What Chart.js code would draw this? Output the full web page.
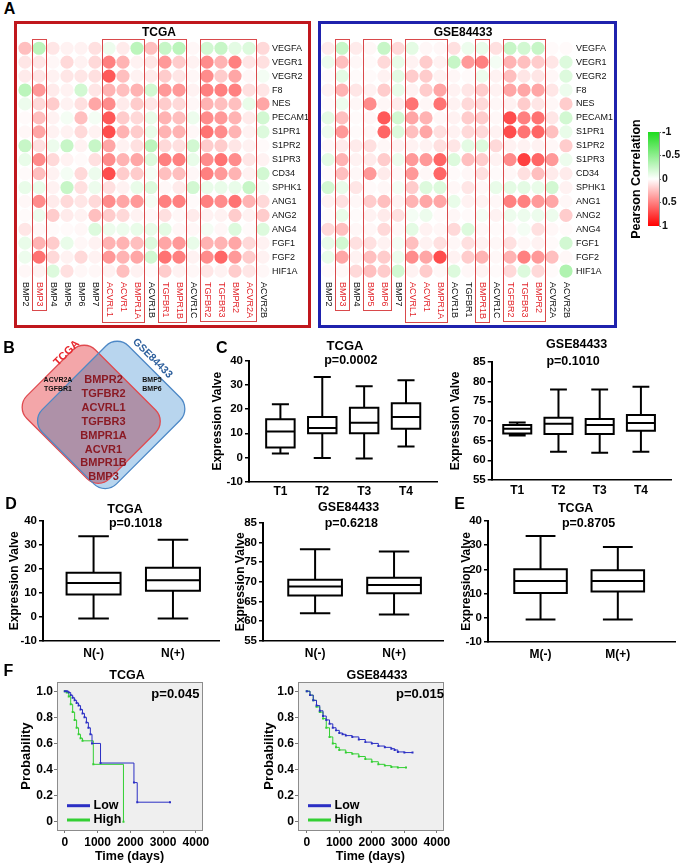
<!DOCTYPE html>
<html lang="en">
<head>
<meta charset="UTF-8">
<title>BMP receptors, angiogenesis genes and survival</title>
<script src="https://cdn.jsdelivr.net/npm/chart.js"></script>
<style>
  html, body { margin: 0; padding: 0; background: #fff; }
  #fig { position: relative; width: 685px; height: 868px; overflow: hidden;
         font-family: Arial, "Liberation Sans", Helvetica, sans-serif; }
  #fig canvas { position: absolute; }
  .t { position: absolute; line-height: 1; white-space: nowrap; font-weight: bold; color: #000;
       transform: translate(-50%, -50%); z-index: 3; }
  .frame { position: absolute; box-sizing: border-box; pointer-events: none; z-index: 2; }
</style>
</head>
<body>
<div id="fig">
  <div class="frame" style="left:14px;top:21px;width:297px;height:307px;border:3px solid #c0171d"></div>
  <div class="frame" style="left:318px;top:21px;width:299px;height:307px;border:3px solid #1f22ad"></div>
</div>
<script>
// ---------- data ----------
const receptors = ['BMP2','BMP3','BMP4','BMP5','BMP6','BMP7','ACVRL1','ACVR1','BMPR1A','ACVR1B',
                   'TGFBR1','BMPR1B','ACVR1C','TGFBR2','TGFBR3','BMPR2','ACVR2A','ACVR2B'];
const angioGenes = ['VEGFA','VEGR1','VEGR2','F8','NES','PECAM1','S1PR1','S1PR2','S1PR3','CD34',
                    'SPHK1','ANG1','ANG2','ANG4','FGF1','FGF2','HIF1A'];

// Pearson r, one row per angiogenesis gene, one column per receptor
const tcgaCorr = [
  [0.25,-0.3,0.1,0.05,0.05,0.12,-0.08,0.08,-0.3,0.25,-0.25,-0.3,0.03,-0.2,-0.25,-0.12,-0.15,0.15],
  [0.1,0.1,0.03,0.15,0.05,0.15,0.5,0.3,0.05,0.1,0.4,0.2,0.05,0.45,0.3,0.5,0.1,0.12],
  [0.08,0.1,0.05,0.1,0.1,0.12,0.65,0.25,0.05,0.08,0.2,0.1,0.03,0.45,0.2,0.35,0.03,-0.05],
  [-0.3,0.4,0.08,0.05,-0.2,0.1,0.3,0.25,0.3,-0.2,0.4,0.4,0.05,0.5,0.5,0.5,0.12,0.1],
  [-0.08,0.15,0.2,0.05,0.12,0.35,0.45,0.08,0.2,0.1,0.2,0.15,0.03,0.3,0.25,0.25,-0.1,0.35],
  [0.02,0.25,0.05,-0.05,0.25,-0.05,0.65,0.2,0.15,-0.1,0.3,0.25,-0.08,0.45,0.4,0.3,0.08,-0.2],
  [0.03,0.35,0.05,0.05,0.15,0.05,0.7,0.3,0.2,-0.1,0.3,0.3,0.03,0.55,0.45,0.3,0.05,-0.15],
  [-0.25,0.12,-0.08,-0.25,0.05,-0.25,0.35,0.05,0.12,-0.3,0.15,0.12,-0.2,0.2,0.2,0.1,0.05,0.02],
  [-0.1,0.45,0.15,0.05,0.02,0.12,0.45,0.3,0.35,-0.15,0.5,0.5,-0.1,0.45,0.55,0.45,0.1,0.05],
  [0.02,0.25,0.05,-0.05,0.15,-0.08,0.7,0.2,0.2,-0.05,0.25,0.25,0.03,0.5,0.4,0.3,0.05,-0.2],
  [-0.1,-0.1,0.05,-0.25,0.12,-0.08,0.12,0.05,-0.1,-0.15,0.03,0.08,-0.2,-0.1,-0.1,-0.1,-0.25,-0.05],
  [0.03,0.45,0.08,0.15,0.1,0.15,0.45,0.35,0.4,-0.05,0.5,0.5,0.02,0.5,0.45,0.55,0.3,0.15],
  [0.02,-0.08,0.2,0.08,0.05,0.25,0.2,0.15,0.05,0.03,0.12,0.03,0.08,0.05,0.05,0.2,0.05,0.2],
  [0.1,0.03,0.02,0.02,0.03,-0.15,-0.08,-0.08,-0.1,-0.1,-0.12,0.03,0.03,-0.05,0.03,-0.15,0.02,-0.15],
  [-0.1,0.3,0.2,-0.1,0.03,0.05,0.3,0.3,0.25,-0.15,0.35,0.4,-0.1,0.3,0.3,0.35,0.15,0.05],
  [-0.08,0.55,0.15,0.05,0.15,0.05,0.4,0.3,0.35,-0.2,0.55,0.5,0.05,0.45,0.6,0.4,0.2,0.05],
  [0.03,0.05,-0.15,0.12,0.03,0.03,0.05,0.25,0.05,0.02,0.2,0.05,0.03,0.1,0.05,0.2,0.1,0.03]
];
const gseCorr = [
  [0.08,-0.25,0.08,0.03,-0.25,0.15,-0.12,0.03,0.03,0.12,-0.08,-0.1,0.12,-0.25,-0.2,-0.25,0.02,0.02],
  [-0.08,0.25,0.03,0.02,0.15,-0.1,0.05,0.2,0.05,-0.25,0.4,0.5,-0.05,0.3,0.25,0.2,0.1,-0.15],
  [0.02,-0.12,0.02,0.02,0.05,-0.12,0.2,0.2,0.05,0.03,0.02,-0.08,0.05,0.25,0.1,0.1,0.03,-0.15],
  [0.05,0.3,0.1,0.05,0.2,-0.1,0.05,0.2,0.35,0.05,0.1,0.2,0.05,0.35,0.35,0.35,0.1,-0.08],
  [0.02,-0.08,0.03,0.45,0.03,0.08,0.55,0.03,0.55,0.05,0.15,0.15,0.03,0.05,0.2,0.1,0.03,0.2],
  [-0.12,0.25,0.02,0.03,0.65,-0.2,0.35,0.3,0.03,0.05,0.2,0.2,0.03,0.7,0.5,0.55,0.1,-0.2],
  [-0.08,0.4,0.02,0.03,0.6,-0.15,0.25,0.35,0.12,0.05,0.15,0.15,0.05,0.7,0.55,0.6,0.25,-0.1],
  [0.03,0.08,0.08,0.12,0.03,0.05,0.05,0.05,0.12,0.1,-0.12,-0.15,0.15,0.05,0.05,0.05,0.03,0.2],
  [-0.12,0.3,0.05,0.08,0.2,-0.08,0.4,0.4,0.6,-0.15,0.25,0.2,0.05,0.45,0.75,0.6,0.4,-0.08],
  [0.02,0.25,0.03,0.4,0.08,0.03,0.4,0.03,0.6,0.02,0.03,0.12,0.02,0.03,0.12,0.25,0.08,0.08],
  [-0.2,-0.1,0.1,0.02,0.03,-0.05,0.2,-0.15,-0.15,0.03,0.1,0.03,-0.1,-0.12,-0.12,-0.1,-0.2,0.05],
  [0.05,0.12,0.03,0.2,0.25,0.05,0.3,0.35,0.35,-0.1,0.05,0.05,0.03,0.5,0.5,0.4,0.35,0.03],
  [0.02,-0.1,0.02,0.05,0.08,0.12,-0.05,-0.08,0.02,0.03,0.02,-0.05,0.05,-0.08,-0.08,-0.08,-0.08,0.2],
  [0.15,0.25,0.03,0.03,0.15,0.03,-0.12,0.05,0.03,0.15,-0.15,0.03,0.02,0.03,-0.05,0.12,0.03,0.02],
  [-0.1,-0.2,0.12,0.12,0.05,-0.05,0.25,0.05,0.12,0.03,0.12,0.05,0.03,0.12,0.03,0.05,0.02,-0.2],
  [-0.1,0.35,0.05,0.25,0.2,-0.08,0.45,0.35,0.7,0.05,0.2,0.3,0.03,0.3,0.5,0.4,0.25,0.03],
  [0.02,0.03,0.15,0.25,0.2,-0.2,0.05,0.2,0.03,-0.15,0.03,0.05,0.02,0.15,-0.15,0.15,0.02,-0.35]
];
// receptor columns boxed (and written in red) in each heatmap
const tcgaGroups = [[1,1],[6,8],[10,11],[13,16]];
const gseGroups = [[1,1],[3,4],[6,8],[11,11],[13,15]];
const corrTicks = [-1, -0.5, 0, 0.5, 1];

const vennTcgaOnly = ['ACVR2A','TGFBR1'];
const vennGseOnly = ['BMP5','BMP6'];
const vennShared = ['BMPR2','TGFBR2','ACVRL1','TGFBR3','BMPR1A','ACVR1','BMPR1B','BMP3'];

// box plots: [min, q1, median, q3, max]
const stageLabels = ['T1','T2','T3','T4'];
const stageTcga = [[1.6,4.1,10.7,15.8,22],[-0.3,10,12.2,16.7,33.3],[-0.5,10,14.4,20.6,29.5],[4.5,11.9,16.7,22.4,32]];
const stageGse = [[66.3,66.8,68,69,69.6],[62.2,66.7,69.3,70.8,78],[61.9,66.7,69,70.5,78],[62.2,67.5,69.5,71.5,78.7]];
const nodeLabels = ['N(-)','N(+)'];
const nodeTcga = [[-0.7,9.3,14.1,18.4,33.6],[-0.7,10.8,15.2,20.4,32.1]];
const nodeGse = [[62,66.5,68.8,70.5,78.3],[61.7,67.1,69.2,71,77.7]];
const metLabels = ['M(-)','M(+)'];
const metTcga = [[-0.7,10.2,15.2,20,33.8],[-0.7,10.9,15.2,19.6,29.2]];

// Kaplan-Meier steps
const kmTicksX = [0, 1000, 2000, 3000, 4000];
const kmTicksY = [0, 0.2, 0.4, 0.6, 0.8, 1.0];
const tcgaLowT  = [0,60,120,180,240,300,360,420,480,540,600,660,720,780,830,1090,2110,2210,3210];
const tcgaLowS  = [1,1,0.99,0.97,0.95,0.93,0.91,0.89,0.86,0.83,0.8,0.76,0.72,0.67,0.6,0.45,0.3,0.15,0.15];
const tcgaHighT = [0,60,120,180,240,300,360,420,480,540,870,1790];
const tcgaHighS = [1,0.99,0.96,0.9,0.84,0.78,0.72,0.67,0.64,0.62,0.44,0];
const gseLowT  = [0,100,200,300,400,500,600,700,800,900,1000,1100,1200,1400,1600,1800,2000,2200,2400,2600,2700,2800,3000,3250];
const gseLowS  = [1,0.97,0.93,0.89,0.85,0.81,0.78,0.75,0.72,0.7,0.68,0.67,0.66,0.65,0.63,0.61,0.6,0.58,0.57,0.56,0.55,0.535,0.53,0.53];
const gseHighT = [0,100,200,300,400,500,600,700,800,900,1000,1200,1400,1600,1800,2000,2200,2400,2600,2800,3050];
const gseHighS = [1,0.97,0.93,0.88,0.84,0.79,0.72,0.65,0.6,0.57,0.55,0.53,0.52,0.5,0.48,0.46,0.44,0.43,0.42,0.415,0.415];

// ---------- helpers ----------
const FONT = 'Arial, "Liberation Sans", Helvetica, sans-serif';
const fig = document.getElementById('fig');
Chart.defaults.font.family = FONT;
Chart.defaults.color = '#000';
Chart.defaults.animation = false;
Chart.defaults.events = [];
Chart.defaults.responsive = false;
Chart.defaults.plugins.legend.display = false;
Chart.defaults.plugins.tooltip.enabled = false;

function makeCanvas(left, top, w, h) {
  const c = document.createElement('canvas');
  c.width = w; c.height = h;
  c.style.left = left + 'px'; c.style.top = top + 'px';
  c.style.width = w + 'px'; c.style.height = h + 'px';
  fig.appendChild(c);
  return c;
}

function label(text, x, y, size, color, rotate) {
  const d = document.createElement('div');
  d.className = 't';
  d.textContent = text;
  d.style.left = x + 'px'; d.style.top = y + 'px'; d.style.fontSize = size + 'px';
  if (color) d.style.color = color;
  if (rotate) d.style.transform = 'translate(-50%,-50%) rotate(' + rotate + 'deg)';
  fig.appendChild(d);
}

function corrColor(r) {
  const a = Math.min(1, Math.abs(r));
  if (r >= 0) {
    const g = Math.round(255 * (1 - a));
    return 'rgb(255,' + g + ',' + g + ')';
  }
  const rb = Math.round(255 - 225 * a);
  return 'rgb(' + rb + ',' + Math.round(255 - 35 * a) + ',' + rb + ')';
}

// ---------- A: correlation heatmaps ----------
function heatLabels(cols, groups) {
  const red = new Set();
  groups.forEach(([a, b]) => { for (let i = a; i <= b; i++) red.add(i); });
  return {
    id: 'heatLabels',
    afterDraw(chart) {
      const {ctx, chartArea} = chart;
      const x = chart.scales.x;
      const y0 = chartArea.bottom + 4;
      ctx.save();
      ctx.font = '9px ' + FONT;
      ctx.textAlign = 'left';
      ctx.textBaseline = 'middle';
      cols.forEach((name, i) => {
        ctx.save();
        ctx.translate(x.getPixelForValue(i), y0);
        ctx.rotate(Math.PI / 2);
        ctx.fillStyle = red.has(i) ? '#e3262c' : '#111';
        ctx.fillText(name, 0, 0);
        ctx.restore();
      });
      ctx.strokeStyle = '#d9494b';
      ctx.lineWidth = 1;
      groups.forEach(([a, b]) => {
        const x1 = Math.round(x.getPixelForValue(a - 0.5)) + 0.5;
        const x2 = Math.round(x.getPixelForValue(b + 0.5)) + 0.5;
        let len = 0;
        for (let i = a; i <= b; i++) len = Math.max(len, ctx.measureText(cols[i]).width);
        const yT = Math.round(chartArea.top - 2.5) + 0.5;
        const yB = Math.round(y0 + len + 3) + 0.5;
        ctx.strokeRect(x1, yT, x2 - x1, yB - yT);
      });
      ctx.restore();
    }
  };
}

function heatmap(left, w, corr, groups, plotLeft, plotRight, labelPad) {
  const top = 21, h = 307;
  const pts = [];
  corr.forEach((row, r) => row.forEach((v, c) => pts.push({x: c, y: r, v: v})));
  new Chart(makeCanvas(left, top, w, h), {
    type: 'scatter',
    data: {datasets: [{
      data: pts, pointRadius: 6.6, pointHoverRadius: 6.6, pointBorderWidth: 0,
      pointBackgroundColor: ctx => corrColor(ctx.raw ? ctx.raw.v : 0)
    }]},
    options: {
      layout: {padding: {left: plotLeft - left, top: 20.3, right: 0, bottom: 0}, autoPadding: false},
      scales: {
        x: {type: 'linear', min: -0.5, max: receptors.length - 0.5,
            ticks: {display: false}, grid: {display: false, drawTicks: false}, border: {display: false},
            afterFit: s => { s.height = 50; }},
        y: {type: 'linear', position: 'right', reverse: true, min: -0.5, max: angioGenes.length - 0.5,
            afterBuildTicks: s => { s.ticks = angioGenes.map((_, i) => ({value: i})); },
            ticks: {callback: v => angioGenes[v], autoSkip: false, font: {size: 9}, color: '#111', padding: labelPad},
            grid: {display: false, drawTicks: false}, border: {display: false},
            afterFit: s => { s.width = left + w - plotRight; }}
      }
    },
    plugins: [heatLabels(receptors, groups)]
  });
}

heatmap(14, 297, tcgaCorr, tcgaGroups, 18, 270, 2);
heatmap(318, 299, gseCorr, gseGroups, 321, 573, 3);
label('TCGA', 159, 32, 12);
label('GSE84433', 463, 32, 12);

// colour bar
new Chart(makeCanvas(640, 122, 45, 112), {
  type: 'bar',
  data: {labels: [''], datasets: [{
    data: [[-1, 1]], borderWidth: 0, barPercentage: 1, categoryPercentage: 1,
    backgroundColor: ctx => {
      const area = ctx.chart.chartArea;
      if (!area) return '#fff';
      const g = ctx.chart.ctx.createLinearGradient(0, area.top, 0, area.bottom);
      corrTicks.forEach((v, i) => g.addColorStop(i / (corrTicks.length - 1), corrColor(v)));
      return g;
    }
  }]},
  options: {
    layout: {padding: {left: 8, top: 10, right: 0, bottom: 8}, autoPadding: false},
    scales: {
      x: {display: false},
      y: {position: 'right', min: -1, max: 1, reverse: true,
          afterBuildTicks: s => { s.ticks = corrTicks.map(v => ({value: v})); },
          ticks: {callback: v => String(v), font: {size: 10.5, weight: 'bold'}, color: '#111', padding: 1},
          grid: {display: true, drawOnChartArea: false, drawTicks: true, tickLength: 2, color: '#666'},
          border: {display: true, color: '#999'},
          afterFit: s => { s.width = 26; }}
    }
  }
});
label('Pearson Correlation', 636, 179, 12.5, null, -90);

// ---------- B: Venn ----------
const vennOrigin = {x: 0, y: 330};
const vennPlugin = {
  id: 'venn',
  afterDraw(chart) {
    const ctx = chart.ctx;
    const ox = vennOrigin.x, oy = vennOrigin.y;
    const shape = (cx, cy, ws, wt, r) => {
      ctx.save();
      ctx.translate(cx - ox, cy - oy);
      ctx.rotate(Math.PI / 4);
      const x0 = -ws / 2, y0 = -wt / 2;
      ctx.beginPath();
      ctx.moveTo(x0 + r, y0);
      ctx.arcTo(x0 + ws, y0, x0 + ws, y0 + wt, r);
      ctx.arcTo(x0 + ws, y0 + wt, x0, y0 + wt, r);
      ctx.arcTo(x0, y0 + wt, x0, y0, r);
      ctx.arcTo(x0, y0, x0 + ws, y0, r);
      ctx.closePath();
      ctx.restore();
    };
    const red = () => shape(91.2, 414.3, 117, 97, 16);
    const blue = () => shape(111.2, 414.9, 105, 122, 16);
    ctx.save();
    blue(); ctx.fillStyle = '#b8d5ee'; ctx.fill();
    red(); ctx.fillStyle = '#f3a6a9'; ctx.fill();
    ctx.save(); red(); ctx.clip(); blue(); ctx.fillStyle = '#ae91a8'; ctx.fill(); ctx.restore();
    ctx.lineWidth = 1.3;
    red(); ctx.strokeStyle = '#e04a4f'; ctx.stroke();
    blue(); ctx.strokeStyle = '#4d88c6'; ctx.stroke();

    ctx.textAlign = 'center';
    ctx.textBaseline = 'middle';
    const rotText = (s, x, y, ang, font, color) => {
      ctx.save();
      ctx.translate(x - ox, y - oy);
      ctx.rotate(ang);
      ctx.font = font; ctx.fillStyle = color;
      ctx.fillText(s, 0, 0);
      ctx.restore();
    };
    rotText('TCGA', 66.7, 353, -Math.PI / 4, 'bold 11px ' + FONT, '#e8282e');
    rotText('GSE84433', 152.5, 358.3, Math.PI / 4, 'bold 10.5px ' + FONT, '#2d5f9c');
    ctx.font = 'bold 7px ' + FONT;
    ctx.fillStyle = '#111';
    vennTcgaOnly.forEach((s, i) => ctx.fillText(s, 58 - ox, 380 + i * 9.3 - oy));
    vennGseOnly.forEach((s, i) => ctx.fillText(s, 152 - ox, 380 + i * 9.3 - oy));
    ctx.font = 'bold 11px ' + FONT;
    ctx.fillStyle = '#8b1a24';
    vennShared.forEach((s, i) => ctx.fillText(s, 103.5 - ox, 380 + i * 13.9 - oy));
    ctx.restore();
  }
};
new Chart(makeCanvas(vennOrigin.x, vennOrigin.y, 200, 170), {
  type: 'scatter',
  data: {datasets: []},
  options: {scales: {x: {display: false}, y: {display: false}}},
  plugins: [vennPlugin]
});

// ---------- C, D, E: box plots ----------
function boxSegments(stats, hw, cw) {
  const pts = [];
  const brk = () => pts.push({x: null, y: null});
  stats.forEach(([lo, q1, med, q3, hi], i) => {
    const x = i + 1;
    pts.push({x: x - hw, y: q1}, {x: x + hw, y: q1}, {x: x + hw, y: q3}, {x: x - hw, y: q3}, {x: x - hw, y: q1}); brk();
    pts.push({x: x - hw, y: med}, {x: x + hw, y: med}); brk();
    pts.push({x: x, y: q3}, {x: x, y: hi}); brk();
    pts.push({x: x - cw, y: hi}, {x: x + cw, y: hi}); brk();
    pts.push({x: x, y: q1}, {x: x, y: lo}); brk();
    pts.push({x: x - cw, y: lo}, {x: x + cw, y: lo}); brk();
  });
  return pts;
}

function boxChart(o) {
  const tfs = 12;
  const left = Math.round(o.titleX - (1 + 0.6 * tfs));
  const top = Math.round(o.top - 8);
  const xH = 24;
  const w = Math.ceil(o.right + 6 - left);
  const h = Math.ceil(o.bottom + xH - top);
  new Chart(makeCanvas(left, top, w, h), {
    type: 'scatter',
    data: {datasets: [{
      data: boxSegments(o.stats, 0.34, 0.18), showLine: true, borderColor: '#000', borderWidth: 2,
      pointRadius: 0, borderJoinStyle: 'miter', borderCapStyle: 'square'
    }]},
    options: {
      layout: {padding: {left: 0, top: o.top - top, right: left + w - o.right, bottom: top + h - o.bottom - xH}, autoPadding: false},
      scales: {
        x: {type: 'linear', min: o.xMin, max: o.xMax,
            afterBuildTicks: s => { s.ticks = o.labels.map((_, i) => ({value: i + 1})); },
            ticks: {callback: v => o.labels[v - 1], font: {size: 12, weight: 'bold'}, color: '#000',
                    padding: o.labelPad, autoSkip: false, maxRotation: 0},
            grid: {display: false, drawTicks: false},
            border: {display: true, color: '#000', width: 1.5},
            afterFit: s => { s.height = xH; }},
        y: {type: 'linear', min: o.yMin, max: o.yMax,
            ticks: {stepSize: o.yStep, font: {size: 11.5, weight: 'bold'}, color: '#000', padding: 2},
            grid: {display: true, drawOnChartArea: false, drawTicks: true, tickLength: 4, color: '#000', lineWidth: 1.5},
            border: {display: true, color: '#000', width: 2},
            title: {display: true, text: 'Expression Valve', font: {size: tfs, weight: 'bold'}, color: '#000',
                    padding: {top: 1, bottom: 0}},
            afterFit: s => { s.width = o.left - left; }}
      }
    }
  });
}

boxChart({stats: stageTcga, labels: stageLabels, left: 249, right: 437, top: 360, bottom: 481.5, titleX: 217.5,
          xMin: 0.25, xMax: 4.74, yMin: -10, yMax: 40, yStep: 10, labelPad: 3.3});
boxChart({stats: stageGse, labels: stageLabels, left: 491.7, right: 671, top: 361, bottom: 480, titleX: 455,
          xMin: 0.38, xMax: 4.73, yMin: 55, yMax: 85, yStep: 5, labelPad: 3.3});
boxChart({stats: nodeTcga, labels: nodeLabels, left: 43, right: 219, top: 520, bottom: 640.7, titleX: 13.8,
          xMin: 0.363, xMax: 2.58, yMin: -10, yMax: 40, yStep: 10, labelPad: 5.4});
boxChart({stats: nodeGse, labels: nodeLabels, left: 263, right: 443, top: 521.7, bottom: 640.7, titleX: 239.7,
          xMin: 0.34, xMax: 2.62, yMin: 55, yMax: 85, yStep: 5, labelPad: 5.4});
boxChart({stats: metTcga, labels: metLabels, left: 488, right: 675, top: 520, bottom: 642, titleX: 466,
          xMin: 0.32, xMax: 2.74, yMin: -10, yMax: 40, yStep: 10, labelPad: 5.4});

label('TCGA', 345, 345.3, 13);
label('p=0.0002', 350.8, 360, 12.5);
label('GSE84433', 576.7, 344, 12.5);
label('p=0.1010', 573, 361, 12.5);
label('TCGA', 125, 509.3, 12.5);
label('p=0.1018', 135.5, 522.8, 12.5);
label('GSE84433', 348.7, 506.8, 12.5);
label('p=0.6218', 351.3, 523, 12.5);
label('TCGA', 575.7, 508.3, 12.5);
label('p=0.8705', 588.5, 522.7, 12.5);

// ---------- F: survival ----------
const kmFrame = {
  id: 'kmFrame',
  beforeDraw(chart) {
    const {ctx, chartArea: a} = chart;
    ctx.save();
    ctx.fillStyle = '#efefef';
    ctx.fillRect(a.left, a.top, a.width, a.height);
    ctx.restore();
  },
  afterDraw(chart) {
    const {ctx, chartArea: a} = chart;
    ctx.save();
    ctx.strokeStyle = '#8c8c8c';
    ctx.lineWidth = 1;
    ctx.strokeRect(Math.round(a.left) + 0.5, Math.round(a.top) + 0.5, Math.round(a.width), Math.round(a.height));
    ctx.font = 'bold 12.5px ' + FONT;
    ctx.textBaseline = 'middle';
    chart.data.datasets.forEach((d, i) => {
      const y = a.bottom - 24.3 + i * 14.3;
      ctx.strokeStyle = d.borderColor;
      ctx.lineWidth = 3;
      ctx.beginPath();
      ctx.moveTo(a.left + 10, y);
      ctx.lineTo(a.left + 33, y);
      ctx.stroke();
      ctx.fillStyle = '#000';
      ctx.fillText(d.label, a.left + 36.5, y);
    });
    ctx.restore();
  }
};

function kmChart(o) {
  const tfs = 13;
  const left = Math.round(o.titleX - (1 + 0.6 * tfs));
  const top = Math.round(o.top - 8);
  const xH = 34.2;
  const w = Math.ceil(o.right + 6 - left);
  const h = Math.ceil(o.bottom + xH - top);
  const datasets = o.series.map(s => ({
    label: s.label, data: s.t.map((t, i) => ({x: t, y: s.s[i]})),
    showLine: true, stepped: 'before', borderColor: s.color, borderWidth: 1,
    pointRadius: 1.4, pointStyle: 'rect', pointBackgroundColor: s.color, pointBorderWidth: 0
  }));
  new Chart(makeCanvas(left, top, w, h), {
    type: 'scatter',
    data: {datasets: datasets},
    options: {
      layout: {padding: {left: 0, top: o.top - top, right: left + w - o.right, bottom: top + h - o.bottom - xH}, autoPadding: false},
      scales: {
        x: {type: 'linear', min: o.xMin, max: o.xMax,
            afterBuildTicks: s => { s.ticks = kmTicksX.map(v => ({value: v})); },
            ticks: {callback: v => String(v), font: {size: 12, weight: 'bold'}, color: '#000', padding: 2.5},
            grid: {display: true, drawOnChartArea: false, drawTicks: true, tickLength: 3, color: '#777'},
            border: {display: false},
            title: {display: true, text: 'Time (days)', font: {size: 12.5, weight: 'bold'}, color: '#000',
                    padding: {top: 0, bottom: 0}},
            afterFit: s => { s.height = xH; }},
        y: {type: 'linear', min: -0.063, max: 1.069,
            afterBuildTicks: s => { s.ticks = kmTicksY.map(v => ({value: v})); },
            ticks: {callback: v => v === 0 ? '0' : v.toFixed(1), font: {size: 12, weight: 'bold'}, color: '#000', padding: 1},
            grid: {display: true, drawOnChartArea: false, drawTicks: true, tickLength: 3, color: '#777'},
            border: {display: false},
            title: {display: true, text: 'Probability', font: {size: tfs, weight: 'bold'}, color: '#000',
                    padding: {top: 1, bottom: 0}},
            afterFit: s => { s.width = o.left - left; }}
      }
    },
    plugins: [kmFrame]
  });
}

const lowColor = '#2b2fc4', highColor = '#33cf33';
kmChart({left: 57, right: 206, top: 681.7, bottom: 830, titleX: 26.3, xMin: -238, xMax: 4190,
         series: [{label: 'Low', t: tcgaLowT, s: tcgaLowS, color: lowColor},
                  {label: 'High', t: tcgaHighT, s: tcgaHighS, color: highColor}]});
kmChart({left: 298, right: 447, top: 681.7, bottom: 830, titleX: 269.7, xMin: -269, xMax: 4179,
         series: [{label: 'Low', t: gseLowT, s: gseLowS, color: lowColor},
                  {label: 'High', t: gseHighT, s: gseHighS, color: highColor}]});
label('TCGA', 127, 675, 12.5);
label('GSE84433', 377, 675, 12.5);
label('p=0.045', 175.4, 693.3, 13);
label('p=0.015', 420, 693, 13);

// panel letters
label('A', 9.5, 9, 16);
label('B', 9, 347.5, 16);
label('C', 221.7, 348, 16);
label('D', 11, 503.5, 16);
label('E', 459.5, 503.5, 16);
label('F', 8.5, 671, 16);
</script>
</body>
</html>
